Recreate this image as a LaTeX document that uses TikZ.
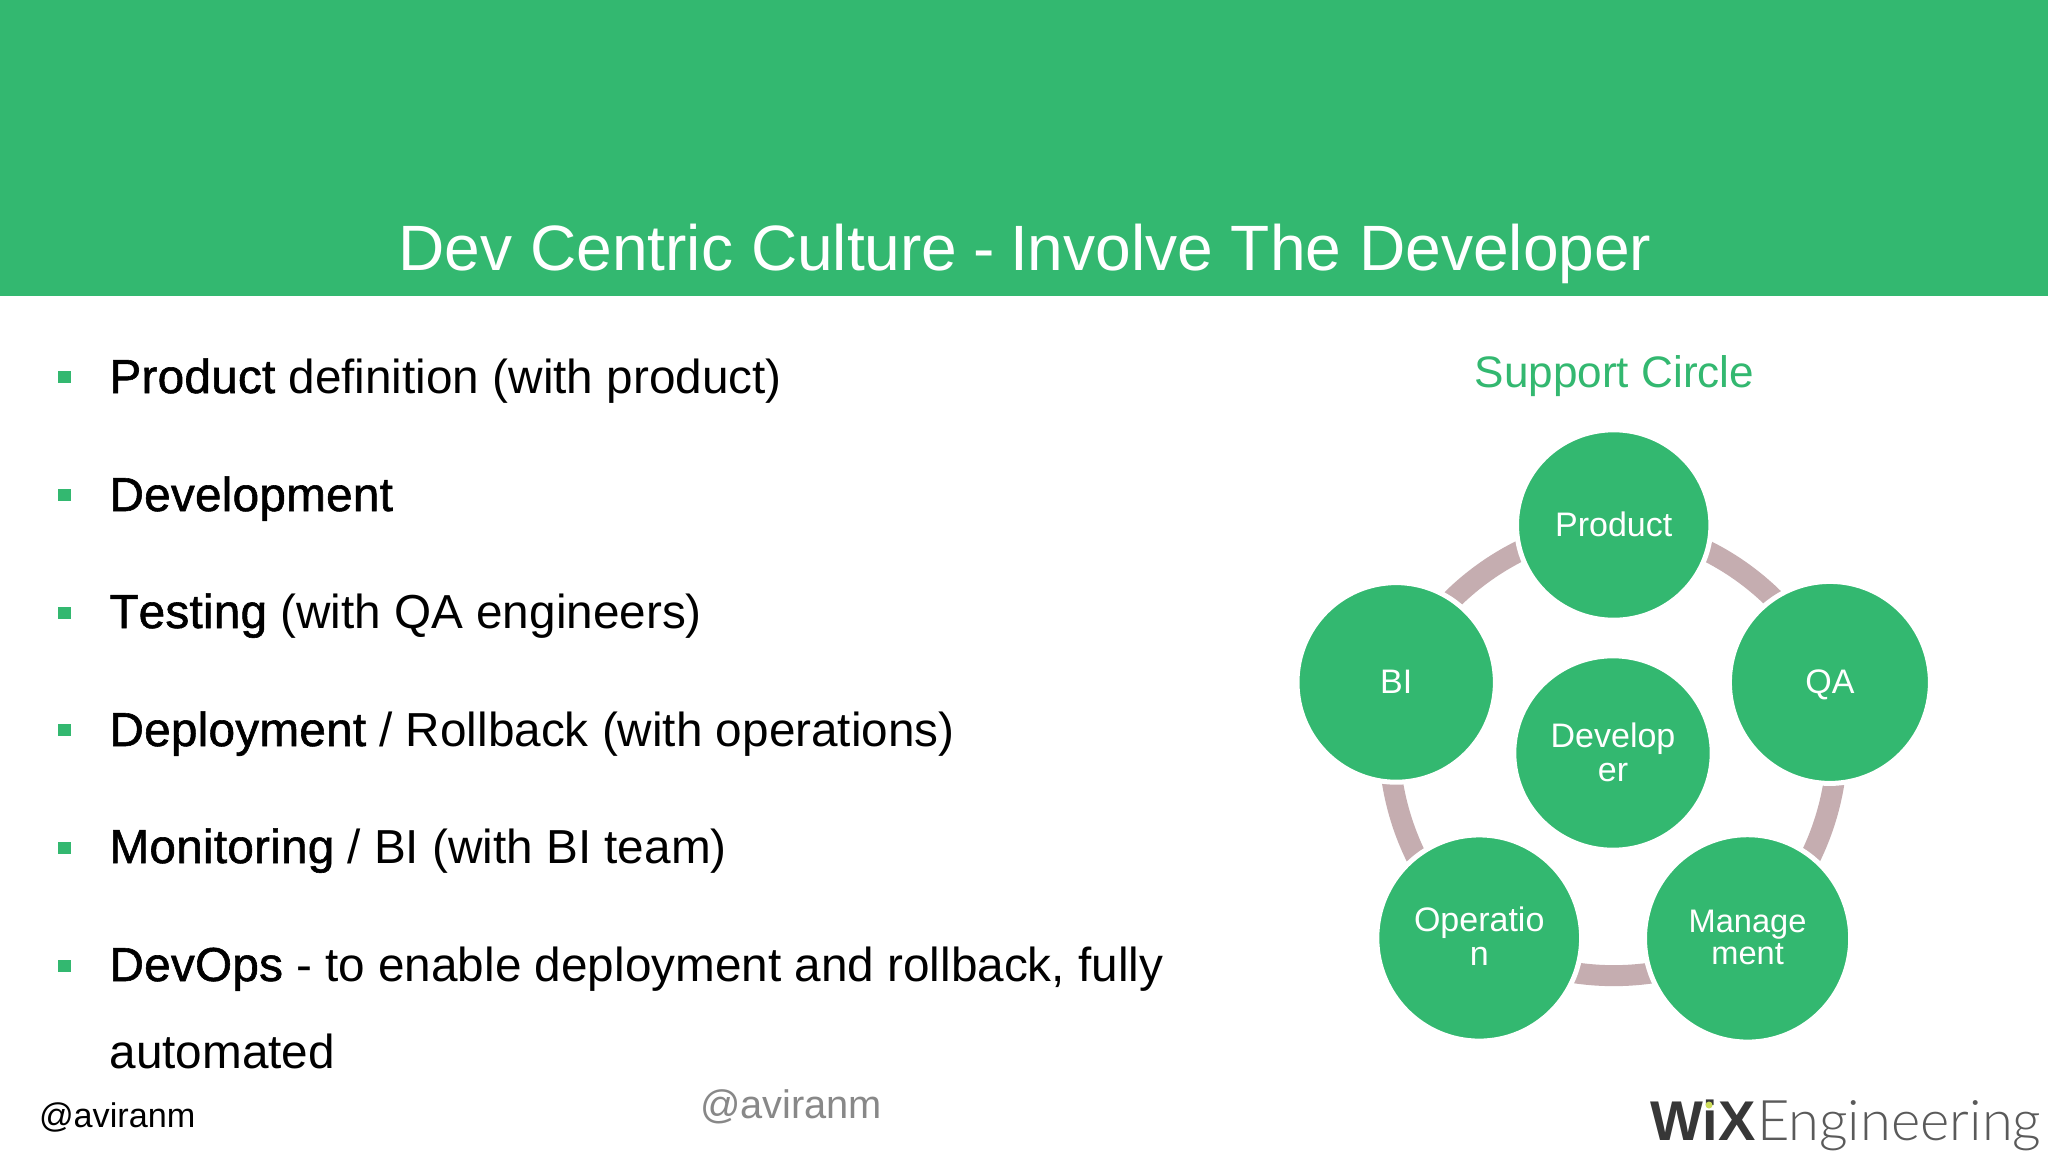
\documentclass[tikz,border=0pt]{standalone}
\usepackage{fontspec}
\setmainfont{Liberation Sans}
\newfontfamily\fakebold[FakeBold=1.2,LetterSpace=0.5]{Liberation Sans}
\newfontfamily\logothin{Lato Light}
\usetikzlibrary{backgrounds,shapes.geometric}
\definecolor{wixgreen}{RGB}{51,184,112}
\definecolor{ringpink}{RGB}{197,173,176}
\definecolor{handlegray}{RGB}{136,136,136}
\definecolor{logodark}{RGB}{55,55,55}
\definecolor{logolight}{RGB}{90,90,90}
\definecolor{logodot}{RGB}{205,220,90}
\newcommand{\sz}[1]{\fontsize{#1}{#1}\selectfont}
\newcommand{\hb}[1]{{\fakebold #1}}
\tikzset{
  x=1pt,y=-1pt,
  plain/.style={inner sep=0pt,outer sep=0pt,anchor=base west},
  item/.style={plain,font=\sz{47.7},text=black},
  bulletmark/.style={fill=wixgreen,inner sep=0pt,outer sep=0pt,minimum size=12.4pt},
  orb/.style={ellipse,fill=wixgreen,draw=white,line width=5pt,inner sep=0pt,outer sep=0pt,
    text=white,font=\sz{34},align=center},
  ring/.style={draw=ringpink,line width=21pt,line cap=butt},
}
\begin{document}
\begin{tikzpicture}
\useasboundingbox (0,0) rectangle (2048,1152);
\node[fill=wixgreen,inner sep=0pt,outer sep=0pt,anchor=north west,minimum width=2048pt,minimum height=296pt] (band) at (0,0) {};
\node[plain,anchor=base,font=\sz{64.1},text=white] (title) at (1025,270.5) {Dev Centric Culture\kern-1.5pt\ -\ \kern-3pt Involve The Developer};

\node[bulletmark] (b1) at (64.5,377) {};
\node[bulletmark] (b2) at (64.5,495) {};
\node[bulletmark] (b3) at (64.5,613) {};
\node[bulletmark] (b4) at (64.5,730) {};
\node[bulletmark] (b5) at (64.5,848) {};
\node[bulletmark] (b6) at (64.5,966) {};

\node[item] (t1) at (109.5,393) {\hb{Product} definition (with product)};
\node[item] (t2) at (109.5,511) {\hb{Development}};
\node[item] (t3) at (109.5,628) {\hb{T\kern0pt esting} (with QA engineers)};
\node[item] (t4) at (109.5,746) {\hb{Deployment} / Rollback (with operations)};
\node[item] (t5) at (109.5,863) {\hb{Monitoring} / BI (with BI team)};
\node[item] (t6) at (109.5,981) {\hb{DevOps} - to enable deployment and rollback, fully};
\node[item] (t7) at (109.5,1068) {automated};

\node[plain,anchor=base,font=\sz{44.1},text=wixgreen] (sc) at (1614.5,387.6) {Support Circle};

\node[orb,minimum width=194.4pt,minimum height=190.4pt,text depth=2.6pt] (prod) at (1613.7,525) {Product};
\node[orb,minimum width=201pt,minimum height=202pt,text height=27.6pt] (qa) at (1829.9,682.4) {QA};
\node[orb,minimum width=206.2pt,minimum height=207.4pt,font=\sz{32.6},text depth=2.6pt] (mgmt) at (1747.6,938.4) {Manage\\ment};
\node[orb,minimum width=204.8pt,minimum height=206.2pt,text depth=4pt] (oper) at (1479.2,938) {Operatio\\n};
\node[orb,minimum width=198.4pt,minimum height=199.6pt,text depth=2pt] (bi) at (1396.2,682.4) {BI};
\node[orb,minimum width=198.4pt,minimum height=194.4pt,text depth=2.6pt] (dev) at (1613,753) {Develop\\er};

\begin{scope}[on background layer]
\fill[white] (0,0) rectangle (2048,1152);
\draw[ring] (prod.center) to[bend left=32,looseness=0.9] (qa.center);
\draw[ring] (qa.center) to[bend left=32,looseness=0.9] (mgmt.center);
\draw[ring] (mgmt.center) to[bend left=32,looseness=0.9] (oper.center);
\draw[ring] (oper.center) to[bend left=32,looseness=0.9] (bi.center);
\draw[ring] (bi.center) to[bend left=32,looseness=0.9] (prod.center);
\end{scope}

\node[plain,font=\sz{34.2},text=black] (h1) at (39,1127) {@aviranm};
\node[plain,font=\sz{39.8},text=handlegray] (h2) at (700,1118) {@aviranm};

\node[plain,font=\bfseries\sz{56},text=logodark] (wix) at (1650,1140) {WiX};
\node[plain,font=\logothin\sz{56},text=logolight] (eng) at (1757,1140) {Engineering};
\fill[logodot] (1709,1105) circle (3.5pt);
\end{tikzpicture}
\end{document}
